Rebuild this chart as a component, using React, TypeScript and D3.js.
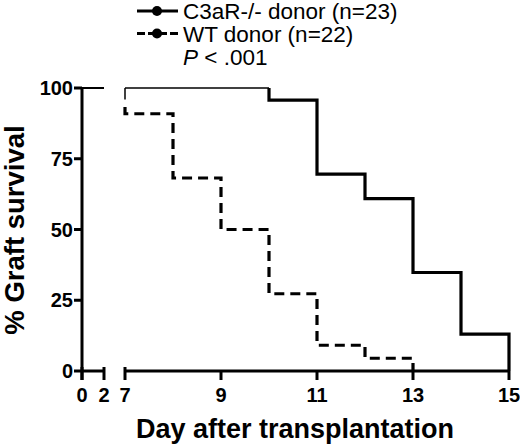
import React from "react";
import * as d3 from "d3";

const W = 520;
const H = 445;

const yTicks = [0, 25, 50, 75, 100];
const xTicksEarly = [0, 2];
const xTicksLate = [7, 9, 11, 13, 15];

// Kaplan-Meier steps: C3aR-/- donor (n=23)
const c3arDays = [10, 10, 11, 12, 13, 14, 15];
const c3arSurv = [100, 95.7, 69.6, 60.9, 34.8, 13.0, 0];
// WT donor (n=22)
const wtDays = [7, 8, 9, 10, 11, 12, 13];
const wtSurv = [90.9, 68.2, 50.0, 27.3, 9.1, 4.5, 0];

const legendLabels = ["C3aR-/- donor (n=23)", "WT donor (n=22)"];

const FONT = "'Liberation Sans', Arial, Helvetica, sans-serif";

export default function App() {
  const xA = d3.scaleLinear().domain([0, 2]).range([82, 104]);
  const xB = d3.scaleLinear().domain([7, 15]).range([125, 509]);
  const y = d3.scaleLinear().domain([0, 100]).range([371, 88]);

  const step = d3
    .line<[number, number]>()
    .x((d) => xB(d[0]))
    .y((d) => y(d[1]))
    .curve(d3.curveStepAfter);

  const c3arPts: [number, number][] = c3arDays.map((d, i) => [d, c3arSurv[i]]);
  const wtPts: [number, number][] = [[7, 100], ...wtDays.map((d, i) => [d, wtSurv[i]] as [number, number])];
  const thinPts: [number, number][] = [[7, 100], [10, 100]];

  const wtStartLen = (y(wtSurv[0]) - y(100)) * 0.74;
  const dash = `0 ${wtStartLen} ` + "10 6 ".repeat(80);

  const axisW = 3;
  const tickBelow = 9;
  const tickAbove = 4;

  return (
    <svg width={W} height={H} style={{ position: "absolute", left: 0, top: 0, background: "#fff" }} fontFamily={FONT}>
      {/* Y axis */}
      <line x1={xA(0)} x2={xA(0)} y1={y(100) - 1} y2={y(0) + tickBelow} stroke="#000" strokeWidth={axisW} />
      {yTicks.map((t) => (
        <g key={t}>
          <line x1={xA(0) - 8} x2={xA(0)} y1={y(t)} y2={y(t)} stroke="#000" strokeWidth={axisW} />
          <text x={xA(0) - 9} y={y(t)} dy="0.36em" textAnchor="end" fontSize={20} fontWeight="bold">
            {t}
          </text>
        </g>
      ))}

      {/* X axis segment 1 */}
      <line x1={xA(0)} x2={xA(2)} y1={y(0)} y2={y(0)} stroke="#000" strokeWidth={axisW} />
      {xTicksEarly.map((t) => (
        <line key={t} x1={xA(t)} x2={xA(t)} y1={y(0) - tickAbove} y2={y(0) + tickBelow} stroke="#000" strokeWidth={axisW} />
      ))}
      {/* X axis segment 2 */}
      <line x1={xB(7)} x2={xB(15)} y1={y(0)} y2={y(0)} stroke="#000" strokeWidth={axisW} />
      {xTicksLate.map((t) => (
        <line
          key={t}
          x1={xB(t)}
          x2={xB(t)}
          y1={t === 7 ? y(0) - tickAbove : y(0)}
          y2={y(0) + tickBelow}
          stroke="#000"
          strokeWidth={axisW}
        />
      ))}
      {[...xTicksEarly.map((t) => [t, xA(t)]), ...xTicksLate.map((t) => [t, xB(t)])].map(([t, x]) => (
        <text key={"l" + t} x={x} y={y(0) + 24} dy="0.36em" textAnchor="middle" fontSize={20} fontWeight="bold">
          {t}
        </text>
      ))}

      {/* curves, segment 1 */}
      <line x1={xA(0)} x2={xA(2)} y1={y(100)} y2={y(100)} stroke="#000" strokeWidth={2} />

      {/* curves, segment 2 */}
      <path d={step(thinPts) || ""} fill="none" stroke="#000" strokeWidth={1.5} />
      <line x1={xB(7)} x2={xB(7)} y1={y(100)} y2={y(100) + wtStartLen * 0.6} stroke="#000" strokeWidth={1.5} />
      <path d={step(c3arPts) || ""} fill="none" stroke="#000" strokeWidth={3.2} />
      <path d={step(wtPts) || ""} fill="none" stroke="#000" strokeWidth={3.2} strokeDasharray={dash} />

      {/* Legend */}
      {legendLabels.map((lab, i) => {
        const ly = 11 + i * 22.5;
        return (
          <g key={lab}>
            <line x1={137} x2={178} y1={ly} y2={ly} stroke="#000" strokeWidth={3.2} strokeDasharray={i === 1 ? "8 3" : undefined} />
            <circle cx={157} cy={ly} r={5} fill="#000" />
            <text x={183} y={ly} dy="0.36em" fontSize={22.5}>
              {lab}
            </text>
          </g>
        );
      })}
      <text x={183} y={56.5} dy="0.36em" fontSize={22.5}>
        <tspan fontStyle="italic">P</tspan>
        {" < .001"}
      </text>

      {/* Axis titles */}
      <text
        transform={`translate(${24},${230}) rotate(-90)`}
        textAnchor="middle"
        fontSize={27.5}
        fontWeight="bold"
      >
        % Graft survival
      </text>
      <text x={295} y={438} textAnchor="middle" fontSize={27} fontWeight="bold">
        Day after transplantation
      </text>
    </svg>
  );
}
